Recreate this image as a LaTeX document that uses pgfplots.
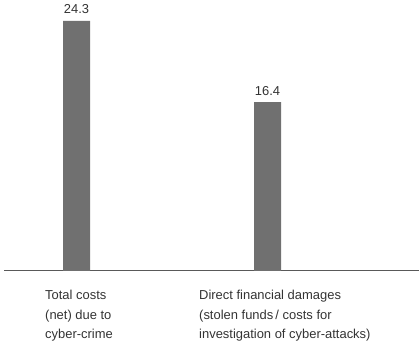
\documentclass[border=0pt]{standalone}
\usepackage{pgfplots}
\pgfplotsset{compat=1.18}
\usepackage{fontspec}
\setmainfont{Liberation Sans}
\definecolor{barc}{HTML}{707070}
\definecolor{txt}{HTML}{333333}
\begin{document}
\begin{tikzpicture}[x=1bp,y=1bp]
\path[use as bounding box] (0,0) rectangle (419,347);
\begin{axis}[
  at={(4,74)}, anchor=south west,
  scale only axis, width=415bp, height=270bp,
  xmin=4, xmax=419, ymin=0, ymax=26.24,
  axis x line=bottom, axis y line=none,
  x axis line style={-, draw=black!65, line width=0.9bp},
  xtick=\empty, ytick=\empty,
  clip=false,
  ybar, bar width=27bp,
  nodes near coords,
  every node near coord/.append style={font=\fontsize{13}{13}\selectfont, text=txt, inner sep=0pt, anchor=south, yshift=6.5bp},
  /pgf/number format/fixed, /pgf/number format/precision=1, /pgf/number format/fixed zerofill,
  /pgf/number format/assume math mode=true,
]
\addplot[fill=barc, draw=none] coordinates {(76.5,24.3) (267.5,16.4)};
\node[anchor=north west, align=left, inner sep=0pt, text=txt, font=\fontsize{13}{19.5}\selectfont] at (axis cs:45,0) [yshift=-19.5bp] {Total costs\\(net) due to\\cyber-crime};
\node[anchor=north west, align=left, inner sep=0pt, text=txt, font=\fontsize{13}{19.5}\selectfont] at (axis cs:199,0) [yshift=-19.5bp] {Direct financial damages\\(stolen funds\,/ costs for\\investigation of cyber-attacks)};
\end{axis}
\end{tikzpicture}
\end{document}
